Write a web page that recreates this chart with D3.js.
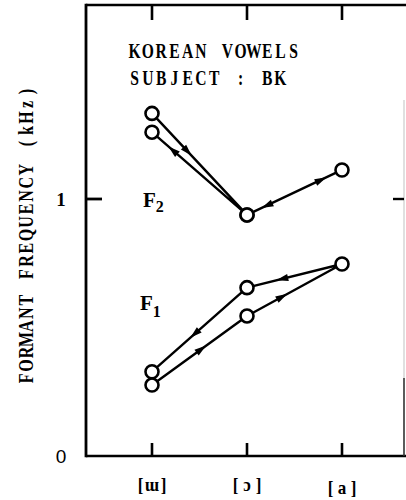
<!DOCTYPE html>
<html>
<head>
<meta charset="utf-8">
<script src="https://cdn.jsdelivr.net/npm/d3@7"></script>
<style>
html,body{margin:0;padding:0;background:#fff;}
svg{display:block;}
</style>
</head>
<body>
<svg id="chart" width="406" height="500"></svg>
<script>
// ---- data ----
const categories = ["[ɯ]", "[ɔ]", "[a]"];
const yTicks = [0, 1];
// articulation sequence ɯ → ɔ → a → ɔ → ɯ
const f2Vowels = ["[ɯ]", "[ɔ]", "[a]", "[ɔ]", "[ɯ]"];
const f2Values = [1.333, 0.938, 1.113, 0.938, 1.26];
const f1Vowels = ["[ɯ]", "[ɔ]", "[a]", "[ɔ]", "[ɯ]"];
const f1Values = [0.276, 0.545, 0.747, 0.655, 0.328];
// position of direction arrow along each segment (fraction)
const f2ArrowAt = [0.375, 0.78, 0.79, 0.78];
const f1ArrowAt = [0.52, 0.37, 0.63, 0.55];
const titleLines = ["KOREAN VOWELS", "SUBJECT : BK"];
const yLabel = "FORMANT FREQUENCY (kHz)";

// ---- layout ----
const frame = {left: 86, top: 5, bottom: 456, right: 404};
const svg = d3.select("#chart");
const x = d3.scalePoint().domain(categories).range([152, 342]);
const y = d3.scaleLinear().domain([0, 1]).range([456, 199]);

const serif = "'Liberation Serif','DejaVu Serif',serif";

// typewriter-like text: one text element, every character centred in a fixed-pitch cell
function monoText(parent, str, x0, y0, pitch, size, sx) {
  const t = parent.append("text")
    .attr("transform", `translate(${x0},${y0}) scale(${sx},1)`)
    .attr("text-anchor", "middle").attr("font-family", serif)
    .attr("font-weight", "bold").attr("font-size", size);
  [...str].forEach((ch, i) => {
    if (ch === " ") return;
    t.append("tspan").attr("x", (i * pitch + pitch / 2) / sx).attr("y", 0).text(ch);
  });
  return t;
}

// frame
svg.append("line").attr("x1", frame.left).attr("x2", 406).attr("y1", frame.top).attr("y2", frame.top)
  .attr("stroke", "#000").attr("stroke-width", 2.6);
svg.append("line").attr("x1", frame.left).attr("x2", 406).attr("y1", frame.bottom).attr("y2", frame.bottom)
  .attr("stroke", "#000").attr("stroke-width", 2.6);
svg.append("line").attr("x1", frame.left).attr("x2", frame.left).attr("y1", frame.top - 1.3).attr("y2", frame.bottom + 1.3)
  .attr("stroke", "#000").attr("stroke-width", 2.8);
svg.append("line").attr("x1", frame.right).attr("x2", frame.right).attr("y1", 100).attr("y2", 378)
  .attr("stroke", "#ccc").attr("stroke-width", 1.2);
svg.append("line").attr("x1", frame.right).attr("x2", frame.right).attr("y1", 378).attr("y2", frame.bottom)
  .attr("stroke", "#333").attr("stroke-width", 1.6);

// x ticks (top and bottom, inward)
categories.forEach(c => {
  svg.append("line").attr("x1", x(c)).attr("x2", x(c)).attr("y1", frame.top).attr("y2", frame.top + 15)
    .attr("stroke", "#000").attr("stroke-width", 2.6);
  svg.append("line").attr("x1", x(c)).attr("x2", x(c)).attr("y1", frame.bottom).attr("y2", frame.bottom - 13)
    .attr("stroke", "#000").attr("stroke-width", 2.6);
});
// y ticks
yTicks.forEach(t => {
  if (t > 0) {
    svg.append("line").attr("x1", frame.left).attr("x2", frame.left + 16).attr("y1", y(t)).attr("y2", y(t))
      .attr("stroke", "#000").attr("stroke-width", 2.8);
    svg.append("line").attr("x1", frame.right - 11).attr("x2", frame.right).attr("y1", y(t)).attr("y2", y(t))
      .attr("stroke", "#000").attr("stroke-width", 2.4);
  }
  svg.append("text").attr("x", 61).attr("y", y(t) + 7).attr("text-anchor", "middle")
    .attr("font-family", t === 0 ? "'Liberation Sans',sans-serif" : serif)
    .attr("font-weight", t === 0 ? "normal" : "bold").attr("font-size", 19).text(t);
});

// x labels
categories.forEach((c, i) => {
  const pitch = 11.5;
  monoText(svg, c, x(c) - pitch * 1.5, i === 2 ? 494 : 491, pitch, 18, 0.95);
});

// y label
const yl = svg.append("g").attr("transform", "translate(33,235) rotate(-90)");
monoText(yl, yLabel, -150, 0, 300 / 23, 20, 0.8);

// title
titleLines.forEach((t, i) => {
  monoText(svg, t, 128, 58 + i * 27, 13.25, 20, 0.78);
});

// formant labels
function fLabel(px, py, sub, subDy) {
  const t = svg.append("text").attr("x", px).attr("y", py)
    .attr("font-family", serif).attr("font-weight", "bold").attr("font-size", 21);
  t.append("tspan").text("F");
  t.append("tspan").attr("font-size", 16).attr("dy", subDy).text(sub);
}
fLabel(143, 207, "2", 5);
fLabel(140, 310, "1", 7);

// series
function drawSeries(vowels, values, arrowAt) {
  const pts = vowels.map((v, i) => [x(v), y(values[i])]);
  svg.append("path").attr("d", d3.line()(pts)).attr("fill", "none")
    .attr("stroke", "#000").attr("stroke-width", 2.4).attr("stroke-linejoin", "round");
  for (let i = 0; i < pts.length - 1; i++) {
    const [x0, y0] = pts[i], [x1, y1] = pts[i + 1];
    const t = arrowAt[i];
    const cx = x0 + (x1 - x0) * t, cy = y0 + (y1 - y0) * t;
    const ang = Math.atan2(y1 - y0, x1 - x0) * 180 / Math.PI;
    svg.append("path").attr("d", "M6,0 L-6,-3.6 L-6,3.6 Z")
      .attr("transform", `translate(${cx},${cy}) rotate(${ang})`).attr("fill", "#000");
  }
  svg.selectAll(null).data(pts).enter().append("circle")
    .attr("cx", d => d[0]).attr("cy", d => d[1]).attr("r", 6.5)
    .attr("fill", "#fff").attr("stroke", "#000").attr("stroke-width", 2.6);
}
drawSeries(f2Vowels, f2Values, f2ArrowAt);
drawSeries(f1Vowels, f1Values, f1ArrowAt);
</script>
</body>
</html>
